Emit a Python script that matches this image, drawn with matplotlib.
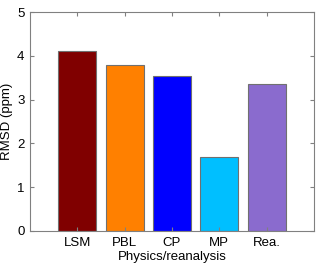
import matplotlib
matplotlib.use("Agg")
import matplotlib.pyplot as plt

categories = ["LSM", "PBL", "CP", "MP", "Rea."]
rmsd = [4.11, 3.78, 3.55, 1.69, 3.36]
colors = ["#800000", "#FF8000", "#0000FF", "#00BFFF", "#8A6BCE"]

plt.rcParams['font.family'] = ['Arial', 'Liberation Sans', 'DejaVu Sans']

fig = plt.figure(figsize=(3.2, 2.67), dpi=100)
ax = fig.add_axes([0.094, 0.135, 0.887, 0.82])

x = list(range(1, len(categories) + 1))
ax.bar(x, rmsd, width=0.8, color=colors, edgecolor="#707070", linewidth=0.8)

ax.set_xlim(0, 6)
ax.set_ylim(0, 5)
ax.set_xticks(x)
ax.set_xticklabels(categories)
ax.set_yticks([0, 1, 2, 3, 4, 5])
ax.tick_params(direction="in", top=True, right=True, labelsize=9.5, length=3,
               color="#808080", pad=4)
for s in ax.spines.values():
    s.set_color("#808080")
ax.set_xlabel("Physics/reanalysis", fontsize=9.5, labelpad=2)
ax.set_ylabel("RMSD (ppm)", fontsize=9.5, labelpad=3)

fig.savefig("out.png", dpi=100)
